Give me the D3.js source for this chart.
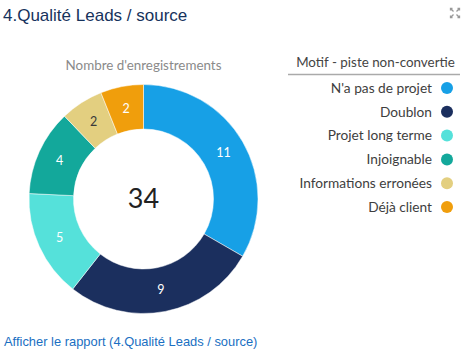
<!DOCTYPE html>
<html><head><meta charset="utf-8">
<script src="https://cdn.jsdelivr.net/npm/d3@7"></script>
<style>
body{margin:0;background:#fff;}
svg{display:block;}
</style></head><body>
<svg id="c" width="476" height="359"></svg>
<script>
const categories = ["N'a pas de projet","Doublon","Projet long terme","Injoignable","Informations erronées","Déjà client"];
const values = [11, 9, 5, 4, 2, 2];
const totalRecords = 34;
const colors = ["#17a0e6","#1b2f5e","#55e1da","#13a89b","#e3cf80","#f09e0c"];
const labelColors = ["#fff","#fff","#fff","#fff","#3a3a3a","#fff"];
const title = "4.Qualité Leads / source";
const subtitle = "Nombre d'enregistrements";
const legendTitle = "Motif - piste non-convertie";
const linkText = "Afficher le rapport (4.Qualité Leads / source)";

const svg = d3.select("#c");
const font = "Lato, 'Open Sans', sans-serif";

svg.append("text").attr("x",3).attr("y",21).attr("font-family","Liberation Sans, Arial, sans-serif")
  .attr("font-size",17).attr("fill","#16325c").text(title);

// expand icon
const ic = svg.append("g").attr("transform","translate(455,13)").attr("stroke","#999").attr("stroke-width",1.3).attr("fill","none");
[[-1,-1],[1,-1],[-1,1],[1,1]].forEach(([sx,sy])=>{
  ic.append("path").attr("d",`M${sx*1.5},${sy*1.5}L${sx*4.5},${sy*4.5}M${sx*4.5},${sy*2.5}L${sx*4.5},${sy*4.5}L${sx*2.5},${sy*4.5}`);
});

svg.append("text").attr("x",143.5).attr("y",69.5).attr("text-anchor","middle").attr("font-family",font)
  .attr("font-size",13.4).attr("fill","#8a8a8a").text(subtitle);

const cx=143.5, cy=199, rOuter=114.5, rInner=70;
const pie = d3.pie().sort(null).value(d=>d)(values);
const arc = d3.arc().innerRadius(rInner).outerRadius(rOuter);
const labelArc = d3.arc().innerRadius((rInner+rOuter)/2).outerRadius((rInner+rOuter)/2);
const g = svg.append("g").attr("transform",`translate(${cx},${cy})`);
g.selectAll("path").data(pie).join("path").attr("d",arc).attr("fill",(d,i)=>colors[i])
  .attr("stroke","#fff").attr("stroke-width",0.5);
g.selectAll("text.l").data(pie).join("text").attr("class","l")
  .attr("transform",d=>`translate(${labelArc.centroid(d)})`)
  .attr("text-anchor","middle").attr("dy","0.35em").attr("font-family",font).attr("font-size",12.5)
  .attr("fill",(d,i)=>labelColors[i]).text(d=>d.data);
g.append("text").attr("text-anchor","middle").attr("dy","0.35em").attr("font-family",font)
  .attr("font-size",27).attr("fill","#222").text(totalRecords);

// legend
svg.append("text").attr("x",375.5).attr("y",67).attr("text-anchor","middle").attr("font-family",font)
  .attr("font-size",13.4).attr("fill","#444").text(legendTitle);
svg.append("line").attr("x1",288).attr("x2",460).attr("y1",74.5).attr("y2",74.5).attr("stroke","#aaa").attr("stroke-width",1.5);
const ly = d3.scalePoint().domain(categories).range([88,207]);
const lg = svg.append("g").selectAll("g").data(categories).join("g").attr("transform",d=>`translate(0,${ly(d)})`);
lg.append("text").attr("x",432).attr("dy","0.35em").attr("text-anchor","end").attr("font-family",font)
  .attr("font-size",13.7).attr("fill","#3e3e3e").text(d=>d);
lg.append("circle").attr("cx",447).attr("r",6).attr("fill",(d,i)=>colors[i]);

svg.append("text").attr("x",4).attr("y",346).attr("font-family","Liberation Sans, Arial, sans-serif")
  .attr("font-size",12.9).attr("fill","#1a6fc2").text(linkText);
</script></body></html>
